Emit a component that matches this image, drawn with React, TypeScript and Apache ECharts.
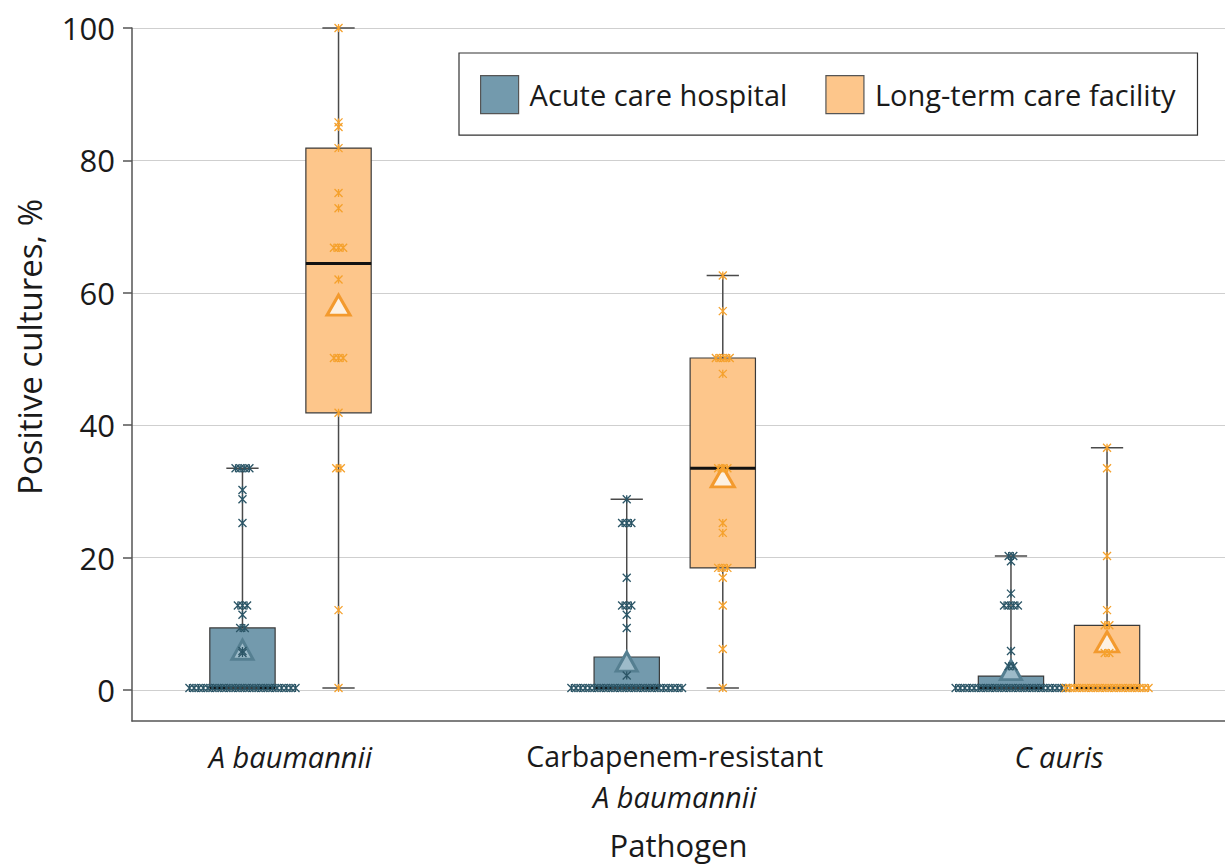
import React, { useEffect, useRef } from 'react';
import * as echarts from 'echarts';

const categories = ['A baumannii', 'Carbapenem-resistant', 'C auris'];
const categorySecondLine = ['', 'A baumannii', ''];
const categoryFirstItalic = [true, false, true];
const seriesNames = ['Acute care hospital', 'Long-term care facility'];
const yTickValues = [0, 20, 40, 60, 80, 100];
const yAxisTitle = 'Positive cultures, %';
const xAxisTitle = 'Pathogen';

// box statistics per pathogen: [min, q1, median, q3, max]
const acuteBox = [
  [0, 0, 0, 9.1, 33.3],
  [0, 0, 0, 4.7, 28.6],
  [0, 0, 0, 1.8, 20],
];
const ltcBox = [
  [0, 41.7, 64.3, 81.8, 100],
  [0, 18.2, 33.3, 50, 62.5],
  [0, 0, 0, 9.5, 36.4],
];
const acuteMean = [5.8, 4.0, 2.7];
const ltcMean = [58.0, 32.0, 7.0];

const acutePoints = [
  [0, 0, 0, 0, 0, 0, 0, 0, 0, 0, 0, 0, 0, 0, 0, 0, 0, 0, 0, 0, 0, 0, 0, 0,
    5.3, 5.6, 9.1, 9.1, 11.1, 12.5, 12.5, 12.5, 25, 28.6, 30, 33.3, 33.3, 33.3, 33.3],
  [0, 0, 0, 0, 0, 0, 0, 0, 0, 0, 0, 0, 0, 0, 0, 0, 0, 0, 0, 0, 0, 0, 0, 0, 0,
    1.9, 9.1, 11.1, 12.5, 12.5, 12.5, 16.7, 25, 25, 25, 28.6],
  [0, 0, 0, 0, 0, 0, 0, 0, 0, 0, 0, 0, 0, 0, 0, 0, 0, 0, 0, 0, 0, 0, 0, 0, 0,
    3.3, 3.3, 5.6, 12.5, 12.5, 12.5, 12.5, 14.3, 19.2, 20, 20],
];
const ltcPoints = [
  [0, 11.8, 33.3, 33.3, 41.7, 50, 50, 50, 61.9, 66.7, 66.7, 66.7, 72.7, 75, 81.8, 85.0, 85.7, 100],
  [0, 5.9, 12.5, 16.7, 18.2, 18.2, 18.2, 23.5, 25, 33.3, 33.3, 33.3, 47.6, 50, 50, 50, 50, 57.1, 62.5],
  [0, 0, 0, 0, 0, 0, 0, 0, 0, 0, 0, 0, 0, 0, 0, 0, 0, 0, 0,
    5.3, 5.3, 9.5, 9.5, 11.8, 20, 33.3, 36.4],
];

// layout constants
const FONT = "'Open Sans', 'Noto Sans', sans-serif";
const GROUP_OFFSET = 0.125;
const BOX_HALF = 0.085;
const CAP_HALF = 0.042;
const SWARM_STEP = 0.012;
const X_MIN = 0.5875;
const X_MAX = 3.432;

const ACUTE_FILL = '#739aad';
const LTC_FILL = '#fdc68b';
const ACUTE_POINT = '#2b5566';
const LTC_POINT = '#f5a12c';
const STAR = 'path://M0,0L10,10M10,0L0,10M5,0L5,10';

function swarm(values: number[], center: number): number[][] {
  const counts: Record<string, number> = {};
  values.forEach((v) => { counts[String(v)] = (counts[String(v)] || 0) + 1; });
  const seen: Record<string, number> = {};
  return values.map((v) => {
    const k = String(v);
    const n = counts[k];
    const i = seen[k] || 0;
    seen[k] = i + 1;
    return [center + (i - (n - 1) / 2) * SWARM_STEP, v];
  });
}

const renderBox = (params: any, api: any) => {
  const x = api.value(0);
  const mn = api.value(1), q1 = api.value(2), md = api.value(3), q3 = api.value(4), mx = api.value(5);
  const cx = api.coord([x, 0])[0];
  const xl = api.coord([x - BOX_HALF, 0])[0];
  const xr = api.coord([x + BOX_HALF, 0])[0];
  const cl = api.coord([x - CAP_HALF, 0])[0];
  const cr = api.coord([x + CAP_HALF, 0])[0];
  const py = (v: number) => api.coord([x, v])[1];
  const color = api.visual('color');
  return {
    type: 'group',
    children: [
      { type: 'line', shape: { x1: cx, y1: py(mx), x2: cx, y2: py(mn) }, style: { stroke: '#4a4a4a', lineWidth: 1.5 } },
      { type: 'rect', shape: { x: xl, y: py(q3), width: xr - xl, height: py(q1) - py(q3) }, style: { fill: color, stroke: '#3a3a3a', lineWidth: 1.2 } },
      { type: 'line', shape: { x1: xl, y1: py(md), x2: xr, y2: py(md) }, style: { stroke: '#111', lineWidth: 3 } },
      { type: 'line', shape: { x1: cl, y1: py(mx), x2: cr, y2: py(mx) }, style: { stroke: '#4a4a4a', lineWidth: 1.5 } },
      { type: 'line', shape: { x1: cl, y1: py(mn), x2: cr, y2: py(mn) }, style: { stroke: '#4a4a4a', lineWidth: 1.5 } },
    ],
  };
};

export default function App() {
  const ref = useRef<HTMLDivElement>(null);
  useEffect(() => {
    if (!ref.current) return;
    const chart = echarts.init(ref.current, null, { renderer: 'svg' });

    const acuteBoxData = acuteBox.map((b, i) => [i + 1 - GROUP_OFFSET, ...b]);
    const ltcBoxData = ltcBox.map((b, i) => [i + 1 + GROUP_OFFSET, ...b]);
    const acuteMeanData = acuteMean.map((m, i) => [i + 1 - GROUP_OFFSET, m]);
    const ltcMeanData = ltcMean.map((m, i) => [i + 1 + GROUP_OFFSET, m]);
    const acutePointData = acutePoints.flatMap((vals, i) => swarm(vals, i + 1 - GROUP_OFFSET));
    const ltcPointData = ltcPoints.flatMap((vals, i) => swarm(vals, i + 1 + GROUP_OFFSET));

    const option: any = {
      animation: false,
      backgroundColor: '#ffffff',
      textStyle: { fontFamily: FONT },
      grid: [
        { left: 132, right: 0, top: 28, bottom: 142 },
        { left: 132, right: 0, top: 28, bottom: 175 },
      ],
      legend: {
        data: seriesNames,
        left: 459,
        top: 53,
        orient: 'horizontal',
        icon: 'rect',
        itemWidth: 38,
        itemHeight: 38,
        itemGap: 38,
        padding: [22, 22, 21, 21],
        borderColor: '#333',
        borderWidth: 1.2,
        backgroundColor: '#fff',
        itemStyle: { borderColor: '#555', borderWidth: 1.2 },
        textStyle: { fontSize: 29, color: '#1a1a1a', fontFamily: FONT, padding: [0, 0, 0, 6] },
      },
      xAxis: [
        {
          gridIndex: 0,
          type: 'value',
          min: X_MIN,
          max: X_MAX,
          axisLine: { show: true, onZero: false, lineStyle: { color: '#555', width: 1.5 } },
          axisTick: { show: false },
          splitLine: { show: false },
          axisLabel: {
            customValues: [1, 2, 3],
            margin: 15,
            formatter: (v: number) => {
              const i = Math.round(v) - 1;
              if (Math.abs(v - Math.round(v)) > 1e-6 || i < 0 || i >= categories.length) return '';
              const first = `{${categoryFirstItalic[i] ? 'i' : 'n'}|${categories[i]}}`;
              return categorySecondLine[i] ? `${first}\n{i|${categorySecondLine[i]}}` : first;
            },
            rich: {
              n: { fontSize: 28.5, lineHeight: 40, color: '#1a1a1a', fontFamily: FONT },
              i: { fontSize: 29, lineHeight: 40, color: '#1a1a1a', fontFamily: FONT, fontStyle: 'italic' },
            },
          },
          name: xAxisTitle,
          nameLocation: 'middle',
          nameGap: 108,
          nameTextStyle: { fontSize: 31, color: '#1a1a1a', fontFamily: FONT },
        },
        { gridIndex: 1, type: 'value', min: X_MIN, max: X_MAX, show: false },
      ],
      yAxis: [
        {
          gridIndex: 0,
          type: 'value',
          min: -5,
          max: 100,
          axisLine: { show: true, onZero: false, lineStyle: { color: '#555', width: 1.5 } },
          axisTick: { show: false },
          axisLabel: { show: false },
          splitLine: { show: false },
        },
        {
          gridIndex: 1,
          type: 'value',
          min: 0,
          max: 100,
          interval: 20,
          axisLine: { show: false },
          axisTick: { show: true, length: 9, lineStyle: { color: '#555', width: 1.5 } },
          axisLabel: { fontSize: 31, margin: 17, color: '#1a1a1a', fontFamily: FONT },
          splitLine: { show: true, lineStyle: { color: '#cfcfcf', width: 1.2 } },
        },
      ],
      graphic: [
        {
          type: 'text',
          x: 29,
          y: 347,
          rotation: Math.PI / 2,
          style: {
            text: yAxisTitle,
            font: `33px ${FONT}`,
            fill: '#1a1a1a',
            textAlign: 'center',
            textVerticalAlign: 'middle',
          },
        },
      ],
      series: [
        { type: 'scatter', xAxisIndex: 1, yAxisIndex: 1, data: [], silent: true },
        {
          name: seriesNames[0],
          type: 'custom',
          xAxisIndex: 0,
          yAxisIndex: 0,
          renderItem: renderBox,
          itemStyle: { color: ACUTE_FILL, borderColor: '#555' },
          encode: { x: 0, y: [1, 2, 3, 4, 5] },
          data: acuteBoxData,
          z: 2,
        },
        {
          name: seriesNames[1],
          type: 'custom',
          xAxisIndex: 0,
          yAxisIndex: 0,
          renderItem: renderBox,
          itemStyle: { color: LTC_FILL, borderColor: '#555' },
          encode: { x: 0, y: [1, 2, 3, 4, 5] },
          data: ltcBoxData,
          z: 2,
        },
        {
          name: 'Acute mean',
          type: 'scatter',
          symbol: 'triangle',
          symbolSize: [21, 19],
          data: acuteMeanData,
          itemStyle: { color: '#9dbbc9', borderColor: '#557f91', borderWidth: 3, opacity: 1 },
          z: 3,
        },
        {
          name: 'LTC mean',
          type: 'scatter',
          symbol: 'triangle',
          symbolSize: [23, 20],
          data: ltcMeanData,
          itemStyle: { color: '#fdf1e2', borderColor: '#f39a2e', borderWidth: 3, opacity: 1 },
          z: 3,
        },
        {
          name: 'Acute points',
          type: 'scatter',
          symbol: STAR,
          symbolSize: 8,
          data: acutePointData,
          itemStyle: { color: 'transparent', borderColor: ACUTE_POINT, borderWidth: 1.3, opacity: 1 },
          z: 4,
        },
        {
          name: 'LTC points',
          type: 'scatter',
          symbol: STAR,
          symbolSize: 8,
          data: ltcPointData,
          itemStyle: { color: 'transparent', borderColor: LTC_POINT, borderWidth: 1.3, opacity: 1 },
          z: 4,
        },
      ],
    };
    chart.setOption(option);
    return () => chart.dispose();
  }, []);
  return <div ref={ref} style={{ position: 'absolute', left: 0, top: 0, width: 1225, height: 865 }} />;
}
